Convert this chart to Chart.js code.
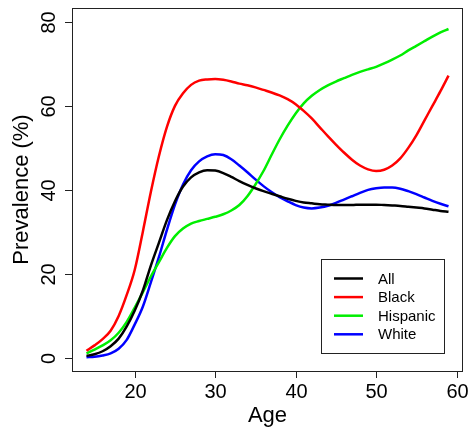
<!DOCTYPE html>
<html>
<head>
<meta charset="utf-8">
<script src="https://cdn.jsdelivr.net/npm/chart.js@4.4.0/dist/chart.umd.min.js"></script>
<style>
  body { margin: 0; background: #fff; }
  canvas { display: block; }
</style>
</head>
<body>
<canvas id="myChart" width="472" height="433"></canvas>
<script>
// datos
let edades = [14,15,16,17,18,19,20,21,22,23,24,25,26,27,28,29,30,31,32,33,34,35,36,37,
  38,39,40,41,42,43,44,45,46,47,48,49,50,51,52,53,54,55,56,57,58,59];

let todos = [0.5,0.9,1.6,2.8,4.6,7.5,11.3,16,22,27.4,32.8,37.3,40.8,43,44.2,44.7,44.6,44,
  43.1,42.1,41.2,40.4,39.7,39.1,38.5,37.9,37.4,37,36.8,36.6,36.5,36.4,36.4,36.4,36.5,36.5,
  36.5,36.4,36.3,36.2,36,35.8,35.6,35.3,35,34.8];

let negros = [1.7,3,4.5,6.5,10,15,21,30,39.5,48,55,60,63,65,66,66.3,66.4,66.2,65.8,65.3,
  64.9,64.4,63.8,63.2,62.5,61.6,60.4,58.8,57,54.9,52.8,50.8,48.9,47.2,45.8,44.9,44.5,44.8,
  45.8,47.5,50,53,56.5,60,63.5,67.2];

let hispanos = [1.1,2,3,4.2,6,8.6,12,15.6,19.4,22.8,26.2,29,30.8,32,32.6,33.1,33.6,34.2,
  35.1,36.4,38.5,41.3,44.5,48.3,52,55.3,58.2,60.6,62.4,63.8,64.9,65.8,66.6,67.4,68.1,68.7,
  69.3,70.1,71,72,73.2,74.3,75.4,76.5,77.5,78.3];

let blancos = [0.2,0.3,0.6,1.1,2.2,4.3,8,12.2,18,24,30.5,36.5,41.3,44.7,46.8,48,48.5,48.3,
  47.3,45.8,44.2,42.5,40.9,39.5,38.3,37.3,36.4,35.8,35.6,35.8,36.2,36.9,37.7,38.5,39.3,
  40,40.4,40.6,40.6,40.3,39.7,39,38.2,37.4,36.7,36.1];

let grupos = ['All', 'Black', 'Hispanic', 'White'];
let colores = ['#000000', '#ff0000', '#00ee00', '#0000ff'];
let series = [todos, negros, hispanos, blancos];

let ticksX = [20, 30, 40, 50, 60];
let ticksY = [0, 20, 40, 60, 80];

function puntos(valores) {
  return valores.map((v, i) => ({ x: edades[i], y: v }));
}

// ejes, caja y leyenda al estilo de R
const ejesR = {
  id: 'ejesR',
  afterDraw(chart) {
    const c = chart.ctx;
    const a = chart.chartArea;
    const sx = chart.scales.x;
    const sy = chart.scales.y;
    c.save();
    c.strokeStyle = '#222';
    c.lineWidth = 1;
    c.strokeRect(a.left + 0.5, a.top + 0.5, a.right - a.left - 1, a.bottom - a.top);

    c.fillStyle = '#000';
    c.font = '20px "Liberation Sans", Arial, sans-serif';
    c.textAlign = 'center';
    c.textBaseline = 'alphabetic';
    ticksX.forEach(t => {
      let px = Math.round(sx.getPixelForValue(t)) + 0.5;
      c.beginPath();
      c.moveTo(px, a.bottom);
      c.lineTo(px, a.bottom + 7);
      c.stroke();
      c.fillText(String(t), px, a.bottom + 27);
    });
    ticksY.forEach(t => {
      let py = Math.round(sy.getPixelForValue(t)) + 0.5;
      c.beginPath();
      c.moveTo(a.left, py);
      c.lineTo(a.left - 7, py);
      c.stroke();
      c.save();
      c.translate(55, py);
      c.rotate(-Math.PI / 2);
      c.fillText(String(t), 0, 0);
      c.restore();
    });

    c.font = '22px "Liberation Sans", Arial, sans-serif';
    c.fillText('Age', (a.left + a.right) / 2, 422);
    c.save();
    c.translate(28, (a.top + a.bottom) / 2);
    c.rotate(-Math.PI / 2);
    c.fillText('Prevalence (%)', 0, 0);
    c.restore();

    // leyenda
    c.strokeRect(321.5, 259.5, 123, 94);
    c.font = '15px "Liberation Sans", Arial, sans-serif';
    c.textAlign = 'left';
    c.textBaseline = 'middle';
    chart.data.datasets.forEach((ds, i) => {
      let y = 278.5 + i * 18.6;
      c.strokeStyle = ds.borderColor;
      c.lineWidth = 2.5;
      c.beginPath();
      c.moveTo(334, y);
      c.lineTo(363, y);
      c.stroke();
      c.fillText(ds.label, 378, y + 1);
    });
    c.restore();
  }
};

let ctx = document.getElementById('myChart').getContext('2d');
let chart = new Chart(ctx, {
  type: 'line',
  data: {
    datasets: grupos.map((g, i) => ({
      label: g,
      data: puntos(series[i]),
      borderColor: colores[i],
      borderWidth: 2.5,
      pointRadius: 0,
      cubicInterpolationMode: 'monotone',
      fill: false
    }))
  },
  options: {
    responsive: false,
    animation: false,
    devicePixelRatio: 1,
    layout: { padding: { left: 72, right: 9, top: 8, bottom: 62 } },
    scales: {
      x: { type: 'linear', min: 12.2, max: 60.8, display: false },
      y: { min: -3.1, max: 83.3, display: false }
    },
    plugins: {
      legend: { display: false },
      tooltip: { enabled: false }
    }
  },
  plugins: [ejesR]
});
</script>
</body>
</html>
